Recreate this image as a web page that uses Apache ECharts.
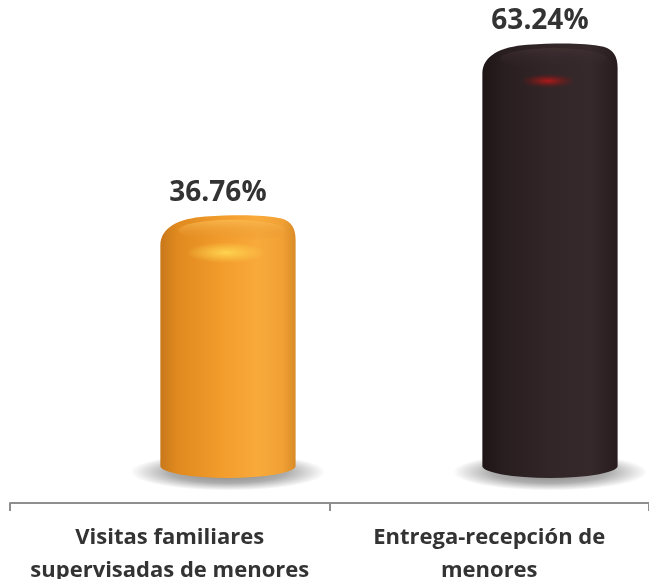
<!DOCTYPE html>
<html>
<head>
<meta charset="utf-8">
<script src="https://cdn.jsdelivr.net/npm/echarts@6/dist/echarts.min.js"></script>
<style>
  html, body { margin: 0; padding: 0; background: #ffffff; }
  #chart { width: 649px; height: 579px; }
</style>
</head>
<body>
<div id="chart"></div>
<script>
// Category names and their shares (percent)
const categories = ['Visitas familiares\nsupervisadas de menores', 'Entrega-recepción de\nmenores'];
const values = [36.76, 63.24];

// Cylinder shading per bar: side gradient stops, cap tint and highlight colour
const palettes = [
  {
    side: [['0', '#c8781b'], ['0.12', '#df891f'], ['0.45', '#f29c2c'], ['0.72', '#f8aa3b'], ['0.9', '#f1a134'], ['1', '#d98b27']],
    capTop: 'rgba(250,185,80,0.85)', capBottom: 'rgba(226,140,38,0.0)',
    spot: 'rgba(255,214,80,0.95)', spotFade: 'rgba(255,214,80,0)', spotR: 40
  },
  {
    side: [['0', '#1e1517'], ['0.15', '#281d1f'], ['0.5', '#322628'], ['0.8', '#35292b'], ['1', '#281c1e']],
    capTop: 'rgba(70,52,54,0.6)', capBottom: 'rgba(50,38,40,0.0)',
    spot: 'rgba(190,25,25,0.9)', spotFade: 'rgba(120,20,20,0)', spotR: 28
  }
];

function stops(list) {
  return list.map(s => ({ offset: parseFloat(s[0]), color: s[1] }));
}

function renderBar(params, api) {
  const idx = api.value(0);
  const v = api.value(1);
  const topPt = api.coord([idx, v]);
  const basePt = api.coord([idx, 0]);
  const unit = api.size([1, 0])[0];
  const w = unit * 0.42;
  const cx = topPt[0];
  const T = topPt[1];
  const L = cx - w / 2;
  const R = cx + w / 2;
  const ry = 12;
  const B = basePt[1] + ry;
  const pal = palettes[params.dataIndex];

  const bodyPath =
    'M' + L + ',' + B +
    ' L' + L + ',' + (T + 30) +
    ' C' + L + ',' + (T + 12) + ' ' + (L + 18) + ',' + (T + 3) + ' ' + (L + 45) + ',' + (T + 1) +
    ' C' + (cx + 8) + ',' + (T - 1) + ' ' + (R - 32) + ',' + (T - 1) + ' ' + (R - 14) + ',' + (T + 3) +
    ' C' + (R - 4) + ',' + (T + 6) + ' ' + R + ',' + (T + 13) + ' ' + R + ',' + (T + 24) +
    ' L' + R + ',' + B +
    ' A' + (w / 2) + ',' + ry + ' 0 0 1 ' + L + ',' + B + ' Z';

  const shadowR = w / 2 + 30;

  return {
    type: 'group',
    children: [
      // soft floor shadow
      {
        type: 'circle',
        x: cx, y: B + 6,
        scaleY: 0.19,
        shape: { cx: 0, cy: 0, r: shadowR },
        style: {
          fill: new echarts.graphic.RadialGradient(0.5, 0.5, 0.5, [
            { offset: 0, color: 'rgba(0,0,0,0.5)' },
            { offset: 0.6, color: 'rgba(0,0,0,0.32)' },
            { offset: 1, color: 'rgba(0,0,0,0)' }
          ])
        }
      },
      // cylinder body
      {
        type: 'path',
        shape: { pathData: bodyPath },
        style: { fill: new echarts.graphic.LinearGradient(0, 0, 1, 0, stops(pal.side)) }
      },
      // top surface tint
      {
        type: 'circle',
        x: cx + 4, y: T + 15,
        scaleY: 0.2,
        shape: { cx: 0, cy: 0, r: w / 2 - 14 },
        style: {
          fill: new echarts.graphic.LinearGradient(0, 0, 0, 1, [
            { offset: 0, color: pal.capTop },
            { offset: 1, color: pal.capBottom }
          ])
        }
      },
      // specular spot under the rim
      {
        type: 'circle',
        x: cx - 2, y: T + 37,
        scaleY: 0.26,
        shape: { cx: 0, cy: 0, r: pal.spotR },
        style: {
          fill: new echarts.graphic.RadialGradient(0.5, 0.5, 0.5, [
            { offset: 0, color: pal.spot },
            { offset: 1, color: pal.spotFade }
          ])
        }
      },
      // value label
      {
        type: 'text',
        style: {
          text: v.toFixed(2) + '%',
          x: cx - 10,
          y: T - 23,
          align: 'center',
          verticalAlign: 'middle',
          fill: '#333333',
          font: 'bold 28px "Open Sans", sans-serif'
        }
      }
    ]
  };
}

const chart = echarts.init(document.getElementById('chart'), null, { renderer: 'canvas' });

chart.setOption({
  animation: false,
  backgroundColor: '#ffffff',
  grid: [
    { left: 10, right: 0, top: 0, bottom: 76, outerBoundsMode: 'none' },
    { left: 0, right: 0, top: 0, bottom: 125, outerBoundsMode: 'none' }
  ],
  xAxis: [
    {
      type: 'category',
      gridIndex: 0,
      data: categories,
      axisLine: { show: true, lineStyle: { color: '#8e8e8e', width: 2 } },
      axisTick: { show: true, length: 8, lineStyle: { color: '#8e8e8e', width: 2 } },
      axisLabel: {
        interval: 0,
        margin: 18,
        color: '#333333',
        fontFamily: 'Open Sans',
        fontWeight: 'bold',
        fontSize: 22,
        lineHeight: 33
      },
      splitLine: { show: false }
    },
    {
      // positions the cylinders: index 0 and 1 sit at their drawn centres
      type: 'value',
      gridIndex: 1,
      show: false,
      min: -0.708,
      max: 1.3075
    }
  ],
  yAxis: [
    { type: 'value', gridIndex: 0, show: false, min: 0, max: 70 },
    { type: 'value', gridIndex: 1, show: false, min: 0, max: 70 }
  ],
  series: [
    {
      type: 'custom',
      xAxisIndex: 1,
      yAxisIndex: 1,
      clip: false,
      renderItem: renderBar,
      encode: { x: 0, y: 1 },
      data: values.map((v, i) => [i, v])
    }
  ]
});
</script>
</body>
</html>
